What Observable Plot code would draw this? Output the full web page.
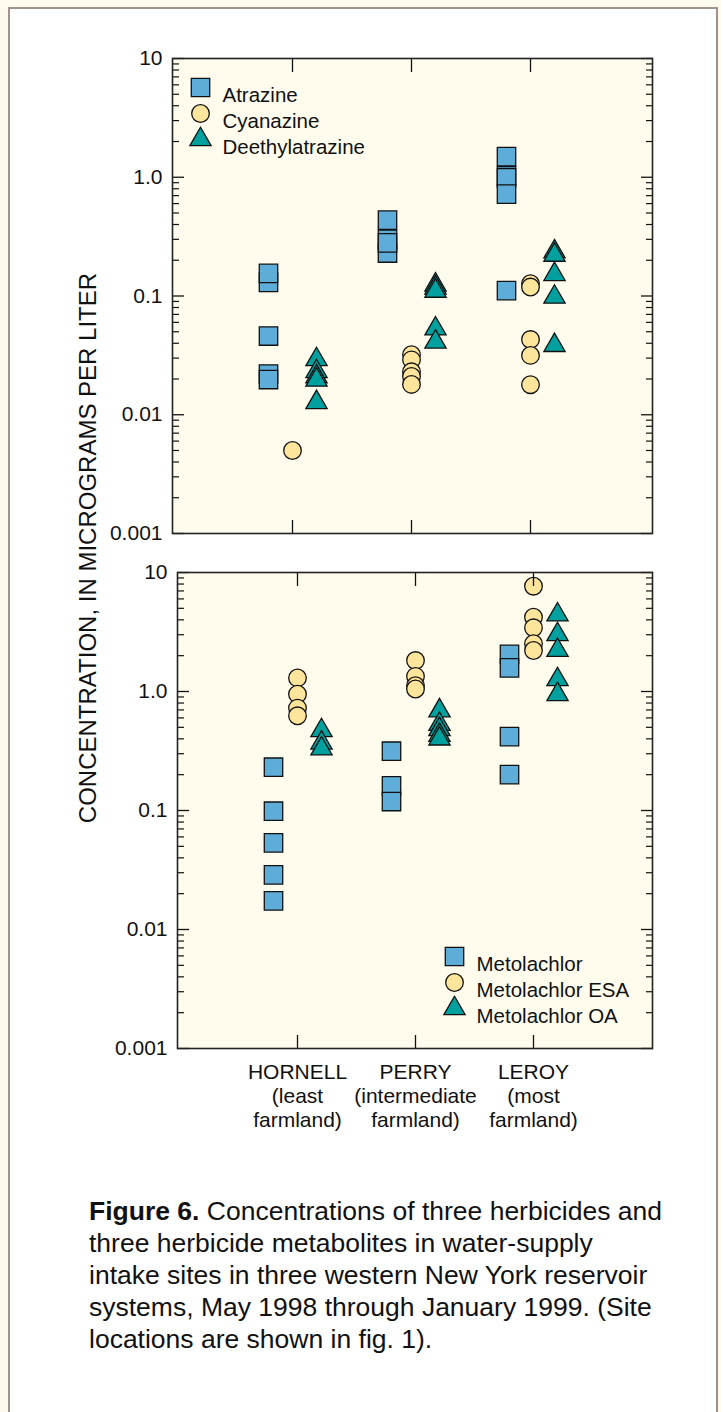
<!DOCTYPE html>
<html><head><meta charset="utf-8">
<script src="https://cdn.jsdelivr.net/npm/d3@7"></script>
<script src="https://cdn.jsdelivr.net/npm/@observablehq/plot@0.6"></script>
<style>
html,body{margin:0;padding:0;}
body{width:721px;height:1412px;background:#fffaee;position:relative;overflow:hidden;font-family:"Liberation Sans",Arial,sans-serif;}
#frame{position:absolute;left:8px;top:7px;width:706px;height:1420px;border:2px solid #a0928a;border-bottom:none;background:#fff;}
#top,#bottom{position:absolute;left:0;}
#top{top:0px}
#bottom{top:545px}
#ytitle{position:absolute;left:88px;top:548px;transform:translate(-50%,-50%) rotate(-90deg);white-space:nowrap;font-size:24px;color:#111;}
#caption{position:absolute;left:89px;top:1195px;font-size:26.5px;line-height:32px;color:#111;white-space:nowrap;}
</style></head>
<body>
<div id="frame"></div>
<div id="top"></div>
<div id="bottom"></div>
<div id="ytitle">CONCENTRATION, IN MICROGRAMS PER LITER</div>
<div id="caption"></div>
<script>
// ---- data ----
const sites = ["HORNELL", "PERRY", "LEROY"];
const siteLabels = ["HORNELL\n(least\nfarmland)", "PERRY\n(intermediate\nfarmland)", "LEROY\n(most\nfarmland)"];
const majorTicks = [0.001, 0.01, 0.1, 1, 10];
const majorTickLabels = ["0.001", "0.01", "0.1", "1.0", "10"];
const minorMantissas = [2, 3, 4, 5, 6, 7, 8, 9];

// values per site, in order HORNELL, PERRY, LEROY
const atrazine = [
  [0.13, 0.155, 0.046, 0.022, 0.0198],
  [0.23, 0.30, 0.28, 0.436],
  [1.03, 0.99, 0.72, 1.49, 0.111]
];
const cyanazine = [
  [0.005],
  [0.032, 0.029, 0.023, 0.021, 0.018],
  [0.127, 0.119, 0.043, 0.0316, 0.0179]
];
const deethylatrazine = [
  [0.0292, 0.0231, 0.0209, 0.0196, 0.0127],
  [0.124, 0.117, 0.110, 0.053, 0.041],
  [0.236, 0.221, 0.152, 0.098, 0.0384]
];
const metolachlor = [
  [0.231, 0.0986, 0.0535, 0.0288, 0.0174],
  [0.315, 0.161, 0.119],
  [2.05, 1.58, 0.418, 0.20]
];
const metolachlorESA = [
  [1.30, 0.95, 0.725, 0.625],
  [1.82, 1.34, 1.12, 1.05],
  [7.67, 4.21, 3.43, 2.52, 2.21]
];
const metolachlorOA = [
  [0.47, 0.37, 0.33],
  [0.69, 0.53, 0.48, 0.43, 0.40],
  [4.41, 3.01, 2.22, 1.26, 0.944]
];
const topLegend = ["Atrazine", "Cyanazine", "Deethylatrazine"];
const bottomLegend = ["Metolachlor", "Metolachlor ESA", "Metolachlor OA"];
const captionLines = [
  "<b>Figure 6.</b> Concentrations of three herbicides and",
  "three herbicide metabolites in water-supply",
  "intake sites in three western New York reservoir",
  "systems, May 1998 through January 1999. (Site",
  "locations are shown in fig. 1)."
];

// ---- styles ----
const sq = {symbol: "square", r: 10.4, fill: "#5eadd9", stroke: "#111", strokeWidth: 1.3};
const ci = {symbol: "circle", r: 8.8, fill: "#fde59c", stroke: "#111", strokeWidth: 1.3};
const tr = {symbol: "triangle", r: 7.9, fill: "#00a09f", stroke: "#111", strokeWidth: 1.3};
const styles = [sq, ci, tr];
const offsets = [-24, 0, 24];

const minorTicks = majorTicks.slice(0, -1).flatMap(p => minorMantissas.map(m => m * p));
const rows = arr => sites.flatMap((s, i) => arr[i].map(v => ({site: s, value: v})));

function yAxes() {
  return [
    Plot.axisY(majorTicks, {anchor: "left", tickSize: -12, tickPadding: 22, strokeWidth: 1.3, label: null, fontSize: 21,
      tickFormat: d => majorTickLabels[majorTicks.indexOf(d)]}),
    Plot.axisY(minorTicks, {anchor: "left", tickSize: -7, strokeWidth: 1.2, label: null, tickFormat: () => ""}),
    Plot.axisY(majorTicks, {anchor: "right", tickSize: -12, strokeWidth: 1.3, label: null, tickFormat: () => ""}),
    Plot.axisY(minorTicks, {anchor: "right", tickSize: -7, strokeWidth: 1.2, label: null, tickFormat: () => ""})
  ];
}

function seriesMarks(series) {
  return series.map((arr, k) => Plot.dot(rows(arr), {x: "site", y: "value", dx: offsets[k], ...styles[k]}));
}

function legendMarks(names, dx0, dy0, step) {
  return names.flatMap((name, k) => [
    Plot.dot([name], {x: null, y: null, frameAnchor: "top-left", dx: dx0, dy: dy0 + k * step, ...styles[k]}),
    Plot.text([name], {x: null, y: null, text: d => d, frameAnchor: "top-left", dx: dx0 + 22, dy: dy0 + k * step,
      textAnchor: "start", fontSize: 20.5, fill: "#111"})
  ]);
}

const common = {
  width: 721,
  marginLeft: 0, marginRight: 69,
  style: {background: "transparent", fontFamily: "'Liberation Sans', Arial, sans-serif", fontSize: "20px", color: "#111", overflow: "visible"},
  y: {type: "log", domain: [0.001, 10]}
};

const topPlot = Plot.plot({
  ...common,
  height: 545, marginTop: 58, marginBottom: 12, marginLeft: 172,
  x: {type: "point", domain: sites, range: [292, 530], padding: 0},
  marks: [
    Plot.frame({fill: "#fffcee"}),
    ...seriesMarks([atrazine, cyanazine, deethylatrazine]),
    ...legendMarks(topLegend, 28, 29, 26),
    Plot.axisX(sites, {anchor: "top", tickSize: -13, strokeWidth: 1.3, label: null, tickFormat: () => ""}),
    Plot.axisX(sites, {anchor: "bottom", tickSize: -13, strokeWidth: 1.3, label: null, tickFormat: () => ""}),
    ...yAxes(),
    Plot.frame({stroke: "#222", strokeWidth: 1.6})
  ]
});
document.getElementById("top").appendChild(topPlot);

const bottomPlot = Plot.plot({
  ...common,
  height: 600, marginTop: 27, marginBottom: 97, marginLeft: 177,
  x: {type: "point", domain: sites, range: [296, 533], padding: 0},
  marks: [
    Plot.frame({fill: "#fffcee"}),
    ...seriesMarks([metolachlor, metolachlorESA, metolachlorOA]),
    ...legendMarks(bottomLegend, 277, 384, 26),
    Plot.axisX(sites, {anchor: "top", tickSize: -13, strokeWidth: 1.3, label: null, tickFormat: () => ""}),
    Plot.axisX(sites, {anchor: "bottom", tickSize: -13, strokeWidth: 1.3, label: null, tickFormat: () => ""}),
    Plot.axisX(sites, {anchor: "bottom", tickSize: 0, tickPadding: 13, lineHeight: 1.15, fontSize: 21, label: null,
      tickFormat: d => siteLabels[sites.indexOf(d)]}),
    ...yAxes(),
    Plot.frame({stroke: "#222", strokeWidth: 1.6})
  ]
});
document.getElementById("bottom").appendChild(bottomPlot);

document.getElementById("caption").innerHTML = captionLines.join("<br>");
</script>
</body></html>
